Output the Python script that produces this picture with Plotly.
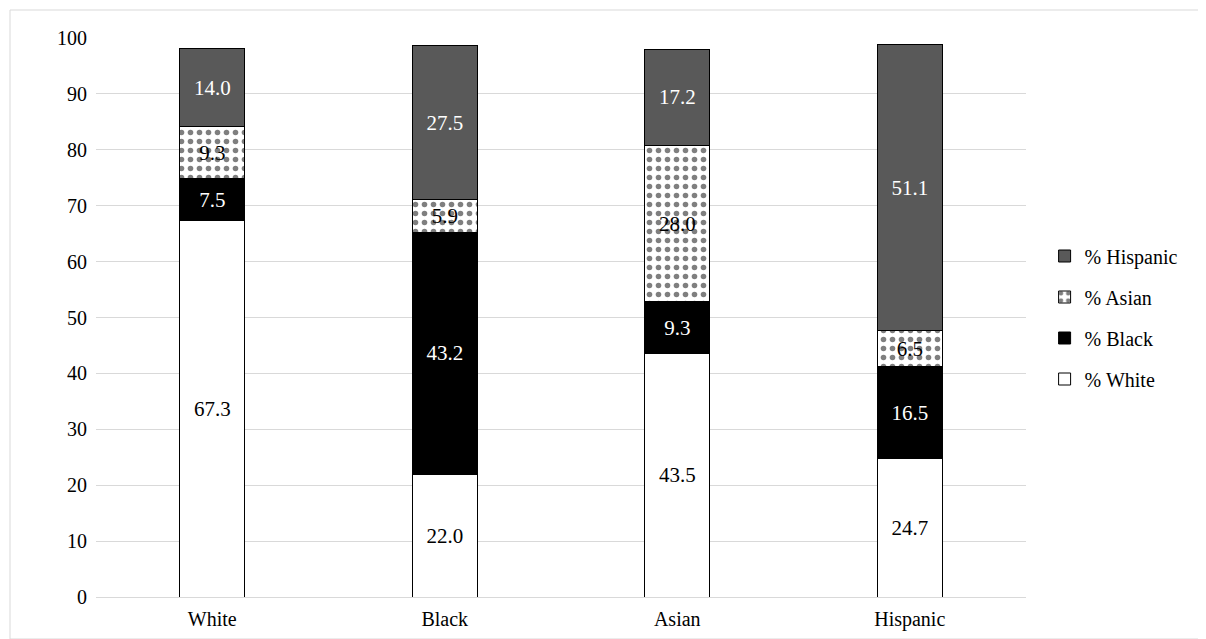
import plotly.graph_objects as go

groups = ["White", "Black", "Asian", "Hispanic"]
pct_white = [67.3, 22.0, 43.5, 24.7]
pct_black = [7.5, 43.2, 9.3, 16.5]
pct_asian = [9.3, 5.9, 28.0, 6.5]
pct_hispanic = [14.0, 27.5, 17.2, 51.1]

SERIF = "Liberation Serif, Times New Roman, serif"

series = [
    ("% White", pct_white, "white", "black", "", 4),
    ("% Black", pct_black, "black", "white", "", 3),
    ("% Asian", pct_asian, "white", "black", ".", 2),
    ("% Hispanic", pct_hispanic, "#595959", "white", "", 1),
]

fig = go.Figure()
for name, vals, fill, txt, pat, rank in series:
    marker = dict(color=fill, line=dict(color="black", width=1))
    if pat:
        marker["pattern"] = dict(shape=".", fgcolor="black", bgcolor="white", size=9, solidity=0.3)
    fig.add_trace(go.Bar(
        x=groups, y=vals, name=name, legendgroup=name, legendrank=rank, width=0.28, marker=marker,
        text=[f"{v:.1f}" for v in vals], textposition="inside", insidetextanchor="middle",
        textfont=dict(color=txt, size=21, family=SERIF), textangle=0,
    ))

fig.update_layout(
    barmode="stack",
    width=1206, height=639,
    margin=dict(l=88, r=188, t=30, b=50),
    plot_bgcolor="white", paper_bgcolor="white",
    font=dict(family=SERIF, size=20, color="black"),
    legend=dict(x=1.02, y=0.5, yanchor="middle", traceorder="grouped",
                font=dict(family=SERIF, size=20, color="black"), itemwidth=30, tracegroupgap=12),
    xaxis=dict(showline=True, linecolor="#d9d9d9", ticks="", ticklabelstandoff=4, automargin=False),
    yaxis=dict(range=[0, 100], dtick=10, gridcolor="#d9d9d9", zeroline=False, ticks="",
               ticklabelstandoff=8, automargin=False),
    shapes=[dict(type="rect", xref="paper", yref="paper",
                 x0=-86/930, x1=1+186/930, y0=-42/559, y1=1+28/559,
                 line=dict(color="#d9d9d9", width=1))],
)
fig.write_html("out.html")
